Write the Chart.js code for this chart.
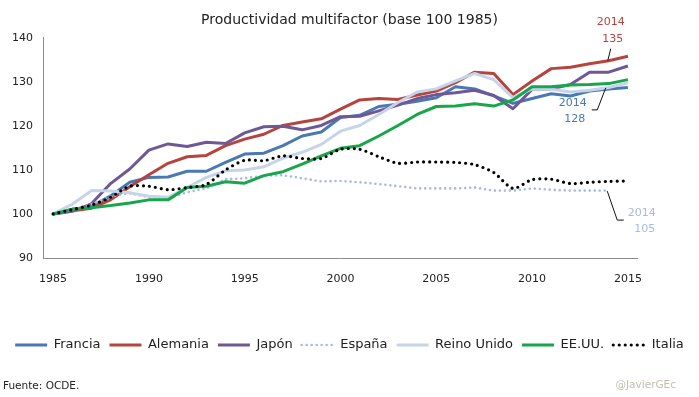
<!DOCTYPE html>
<html>
<head>
<meta charset="utf-8">
<script src="https://cdn.jsdelivr.net/npm/chart.js@4/dist/chart.umd.min.js"></script>
<style>
  html, body { margin: 0; padding: 0; background: #fff; }
  #wrap { width: 699px; height: 397px; }
</style>
</head>
<body>
<div id="wrap"><canvas id="mfpChart" width="699" height="397"></canvas></div>
<script>
// Productividad multifactor, base 100 = 1985
var years = [];
for (var yr = 1985; yr <= 2015; yr++) years.push(yr);

var francia  = [100, 101.0, 101.7, 104.1, 107.2, 108.3, 108.4, 109.7, 109.7, 111.7, 113.6, 113.8, 115.5, 117.7, 118.6, 121.9, 122.4, 124.4, 124.9, 125.6, 126.4, 128.9, 128.4, 126.8, 125.1, 126.2, 127.3, 126.8, 127.9, 128.4, 128.7];
var alemania = [100, 100.7, 101.3, 103.2, 106.2, 108.9, 111.5, 113.0, 113.3, 115.5, 117.0, 118.1, 120.1, 120.9, 121.6, 123.8, 125.9, 126.2, 126.0, 127.0, 127.9, 129.8, 132.2, 131.9, 127.1, 130.2, 133.0, 133.3, 134.1, 134.8, 135.8];
var japon    = [100, 100.6, 102.3, 106.9, 110.2, 114.5, 115.9, 115.3, 116.3, 116.0, 118.4, 119.8, 119.9, 119.1, 120.1, 122.1, 122.2, 123.4, 124.7, 126.2, 127.1, 127.5, 128.1, 126.9, 123.9, 128.3, 128.4, 129.4, 132.2, 132.2, 133.6];
var espana   = [100, 101.0, 102.2, 104.0, 104.7, 103.8, 103.6, 104.9, 105.8, 107.9, 108.1, 108.7, 108.8, 108.1, 107.4, 107.5, 107.2, 106.8, 106.3, 105.8, 105.8, 105.8, 106.0, 105.3, 105.3, 105.8, 105.5, 105.3, 105.3, 105.3, null];
var reinoUnido = [100, 102.2, 105.3, 105.2, 104.8, 104.0, 103.8, 106.0, 108.3, 109.8, 110.0, 110.7, 112.7, 114.0, 115.8, 118.8, 120.1, 122.6, 125.3, 127.7, 128.4, 130.2, 131.9, 130.5, 126.4, 128.4, 128.3, 127.7, 128.1, 128.7, 129.8];
var eeuu     = [100, 101.1, 101.4, 101.9, 102.5, 103.2, 103.2, 106.0, 106.3, 107.3, 107.0, 108.7, 109.6, 111.3, 113.2, 114.9, 115.5, 117.7, 120.1, 122.6, 124.4, 124.5, 125.0, 124.5, 125.9, 128.9, 128.9, 129.3, 129.4, 129.6, 130.5];
var italia   = [100, 101.0, 102.0, 103.8, 106.3, 106.3, 105.5, 106.0, 106.7, 110.0, 112.2, 112.1, 113.2, 112.6, 112.6, 114.7, 114.7, 113.0, 111.5, 111.8, 111.8, 111.7, 111.2, 109.4, 105.8, 107.8, 107.9, 106.9, 107.2, 107.4, 107.5];

var yTicks = [90, 100, 110, 120, 130, 140];
var xTickEvery = 5;

var notes = [
  { series: 'alemania', year: 2014, value: 135, color: '#B5443F' },
  { series: 'francia', year: 2014, value: 128, color: '#4A78B0' },
  { series: 'espana', year: 2014, value: 105, color: '#A9BADA' }
];

(function(){
  var FONT = "'DejaVu Sans', sans-serif";
  Chart.defaults.font.family = FONT;
  Chart.defaults.color = '#222';

  function solid(label, data, color, order) {
    return {
      label: label, data: data, borderColor: color, backgroundColor: color,
      borderWidth: 3, pointRadius: 0, borderJoinStyle: 'round', tension: 0, order: order
    };
  }
  function dotted(label, data, color, width, gap, order, tension) {
    return {
      label: label, data: data, borderColor: color, backgroundColor: color,
      borderWidth: width, borderDash: [0, gap], borderCapStyle: 'round',
      pointRadius: 0, tension: tension, order: order
    };
  }

  var seriesMap = { alemania: alemania, francia: francia, espana: espana };

  var notesPlugin = {
    id: 'notes',
    afterDatasetsDraw: function(chart) {
      var ctx = chart.ctx, xs = chart.scales.x, ys = chart.scales.y;
      ctx.save();
      ctx.font = '11px ' + FONT;
      ctx.textAlign = 'center';
      ctx.textBaseline = 'middle';
      ctx.strokeStyle = '#111';
      ctx.lineWidth = 1;
      notes.forEach(function(n){
        var i = years.indexOf(n.year);
        var px = xs.getPixelForValue(i);
        var py = ys.getPixelForValue(seriesMap[n.series][i]);
        ctx.beginPath();
        if (n.series === 'alemania') {
          ctx.moveTo(px + 2, py - 12); ctx.lineTo(px - 1, py);
          ctx.stroke();
          ctx.fillStyle = n.color;
          ctx.fillText(String(n.year), px + 2, py - 38.5);
          ctx.fillText(String(n.value), px + 4, py - 22);
        } else if (n.series === 'francia') {
          ctx.moveTo(px - 17, py + 21); ctx.lineTo(px - 11.5, py + 21); ctx.lineTo(px - 3, py - 1);
          ctx.stroke();
          ctx.fillStyle = n.color;
          ctx.fillText(String(n.year), px - 36, py + 14.5);
          ctx.fillText(String(n.value), px - 34, py + 30.5);
        } else {
          ctx.moveTo(px - 1.5, py + 0.5); ctx.lineTo(px + 8.5, py + 29.5); ctx.lineTo(px + 15, py + 29.5);
          ctx.stroke();
          ctx.fillStyle = n.color;
          ctx.fillText(String(n.year), px + 33, py + 22.5);
          ctx.fillText(String(n.value), px + 36, py + 39);
        }
      });
      ctx.restore();
    },
    afterDraw: function(chart) {
      var ctx = chart.ctx;
      ctx.save();
      ctx.font = '10.5px ' + FONT;
      ctx.textBaseline = 'middle';
      ctx.textAlign = 'left';
      ctx.fillStyle = '#222';
      ctx.fillText('Fuente: OCDE.', 3, 386);
      ctx.textAlign = 'right';
      ctx.fillStyle = '#C4BEB2';
      ctx.fillText('@JavierGEc', 676, 385);
      ctx.restore();
    }
  };

  new Chart(document.getElementById('mfpChart').getContext('2d'), {
    type: 'line',
    data: {
      labels: years,
      datasets: [
        solid('Francia', francia, '#4A78B0', 7),
        solid('Alemania', alemania, '#B5443F', 6),
        solid('Japón', japon, '#6E5896', 5),
        dotted('España', espana, '#A9BADA', 2.6, 5, 4, 0),
        solid('Reino Unido', reinoUnido, '#C6D4EA', 3),
        solid('EE.UU.', eeuu, '#17A64B', 2),
        dotted('Italia', italia, '#000000', 3.2, 6, 1, 0.25)
      ]
    },
    options: {
      responsive: false,
      animation: false,
      layout: { padding: { top: 0, left: 0, right: 0, bottom: 35.5 } },
      plugins: {
        title: {
          display: true,
          text: 'Productividad multifactor (base 100 1985)',
          color: '#222',
          font: { size: 14, weight: 'normal' },
          padding: { top: 12, bottom: 9 }
        },
        legend: {
          display: true,
          position: 'bottom',
          labels: {
            usePointStyle: true,
            pointStyle: 'line',
            pointStyleWidth: 32,
            padding: 9,
            color: '#222',
            font: { size: 13 },
            sort: function(a, b){ return a.datasetIndex - b.datasetIndex; },
            generateLabels: function(chart){
              var items = Chart.defaults.plugins.legend.labels.generateLabels(chart);
              items.forEach(function(it){
                var ds = chart.data.datasets[it.datasetIndex];
                it.lineDash = ds.borderDash || [];
                it.lineWidth = ds.borderWidth;
                it.lineCap = ds.borderCapStyle || 'butt';
                it.strokeStyle = ds.borderColor;
              });
              return items;
            }
          }
        },
        tooltip: { enabled: false }
      },
      scales: {
        x: {
          type: 'category',
          offset: true,
          grid: { display: false, drawTicks: false },
          border: { display: true, color: '#8A8A8A', width: 1 },
          ticks: {
            autoSkip: false, maxRotation: 0, padding: 14.5,
            color: '#222', font: { size: 11 },
            callback: function(v, i){ return (years[i] % xTickEvery === 0) ? String(years[i]) : ''; }
          },
          afterFit: function(scale){ scale.height = 71.5; }
        },
        y: {
          min: yTicks[0], max: yTicks[yTicks.length - 1],
          grid: { display: false, drawTicks: false },
          border: { display: true, color: '#8A8A8A', width: 1 },
          ticks: { stepSize: 10, padding: 10.5, color: '#222', font: { size: 11 } },
          afterFit: function(scale){ scale.width = 43.5; }
        },
        y2: {
          position: 'right',
          grid: { display: false, drawTicks: false },
          border: { display: false },
          ticks: { display: false },
          afterFit: function(scale){ scale.width = 61.5; }
        }
      }
    },
    plugins: [notesPlugin]
  });
})();
</script>
</body>
</html>
